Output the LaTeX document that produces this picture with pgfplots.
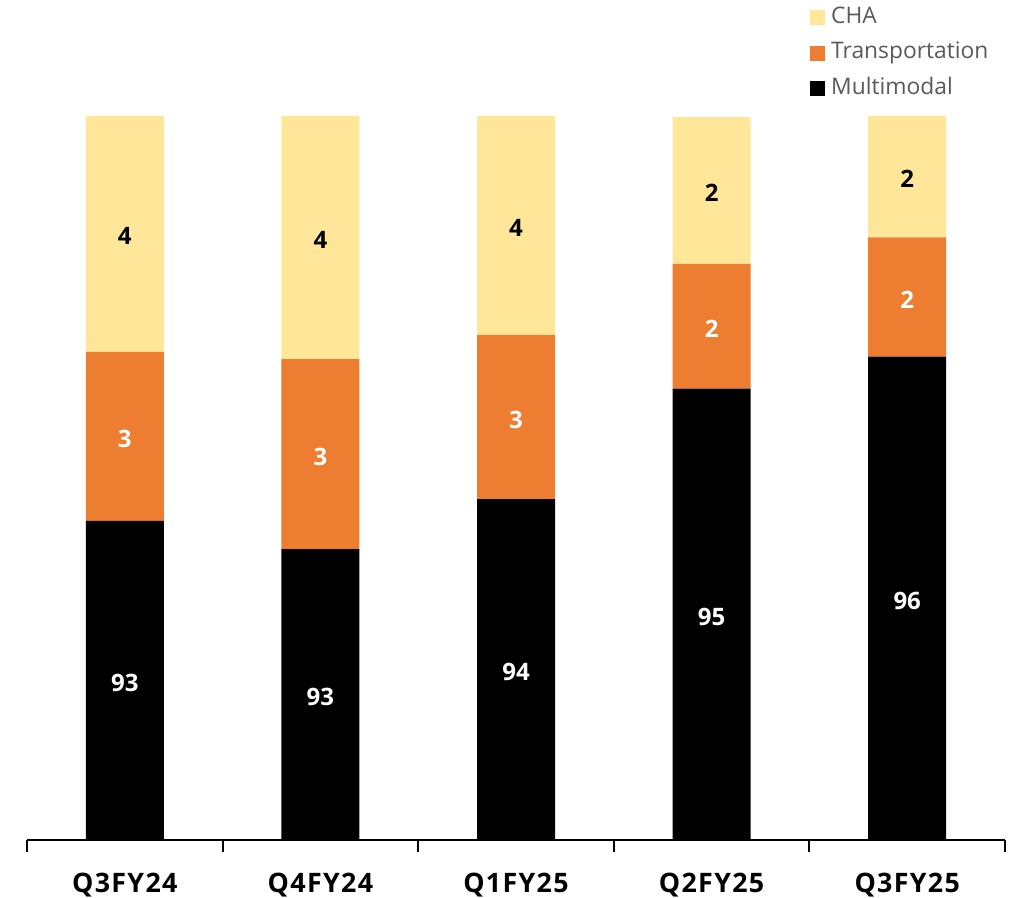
\documentclass[border=0pt]{standalone}
\usepackage{pgfplots}
\pgfplotsset{compat=1.18}
\usepackage{pgfplotstable}
\usepackage{fontspec}
\setmainfont{Open Sans}

\definecolor{chaY}{HTML}{FFE699}
\definecolor{transO}{HTML}{ED7D31}
\definecolor{legGray}{HTML}{595959}

% Revenue mix by segment (%), per quarter
\pgfplotstableread{
x mm tr cha
0 93.29 2.80 3.91
1 92.82 3.15 4.03
2 93.65 2.72 3.63
3 95.48 2.07 2.43
4 96.01 1.98 2.01
}\shares

\pgfplotsset{
  mixframe/.style={
    at={(13.5pt,29pt)}, anchor=south west,
    scale only axis, width=489pt, height=362pt,
    xmin=-0.5, xmax=4.5, ymin=88, ymax=100,
    enlargelimits=false,
  },
  seglabel/.style={
    draw=none, mark=none, forget plot,
    nodes near coords={\pgfmathprintnumber[fixed,precision=0,assume math mode=true]{\pgfplotspointmeta}},
    every node near coord/.style={anchor=center, inner sep=0pt, yshift=-1.2pt,
      font=\bfseries\fontsize{12}{14}\selectfont, text=#1},
  },
}

\begin{document}
\begin{tikzpicture}
\useasboundingbox (0,0) rectangle (506pt,449pt);
% stacked bars
\begin{axis}[
  mixframe,
  ybar stacked, bar width=39pt,
  axis x line=bottom, hide y axis,
  x axis line style={-, line width=1pt, black},
  xtick={0,1,2,3,4},
  xticklabels={Q3FY24,Q4FY24,Q1FY25,Q2FY25,Q3FY25},
  major tick length=0pt,
  xticklabel style={font=\bfseries\fontsize{13.4}{15}\selectfont\addfontfeature{LetterSpace=5},
    anchor=base, yshift=-26.5pt},
  extra x ticks={-0.5,0.5,1.5,2.5,3.5,4.5},
  extra x tick labels={},
  extra x tick style={major tick length=6pt, tick align=outside,
    tick style={black, line width=1pt}},
  reverse legend,
  legend cell align=left,
  legend style={at={(axis description cs:0.8000,1.152)}, anchor=north west,
    draw=none, fill=none, inner sep=0pt,
    font=\fontsize{11.4}{13}\selectfont, text=legGray,
    row sep=6.2pt,
    nodes={inner sep=0pt, text height=8.5pt, text depth=3pt},
    /tikz/every odd column/.append style={column sep=3.2pt}},
  legend image code/.code={\fill[#1] (0pt,-3.75pt) rectangle (7.5pt,3.75pt);},
]
\addplot[fill=black, draw=none] table[x=x, y=mm] {\shares};
\addplot[fill=transO, draw=none] table[x=x, y=tr] {\shares};
\addplot[fill=chaY, draw=none] table[x=x, y=cha] {\shares};
\legend{Multimodal,Transportation,CHA}
\end{axis}
% value labels, centred in each visible segment
\begin{axis}[mixframe, hide axis, clip=false]
\addplot[seglabel=white, point meta=\thisrow{mm}]
  table[x=x, y expr={(\thisrow{mm}+88)/2}] {\shares};
\addplot[seglabel=white, point meta=\thisrow{tr}]
  table[x=x, y expr={\thisrow{mm}+\thisrow{tr}/2}] {\shares};
\addplot[seglabel=black, point meta=\thisrow{cha}]
  table[x=x, y expr={\thisrow{mm}+\thisrow{tr}+\thisrow{cha}/2}] {\shares};
\end{axis}
\end{tikzpicture}
\end{document}
